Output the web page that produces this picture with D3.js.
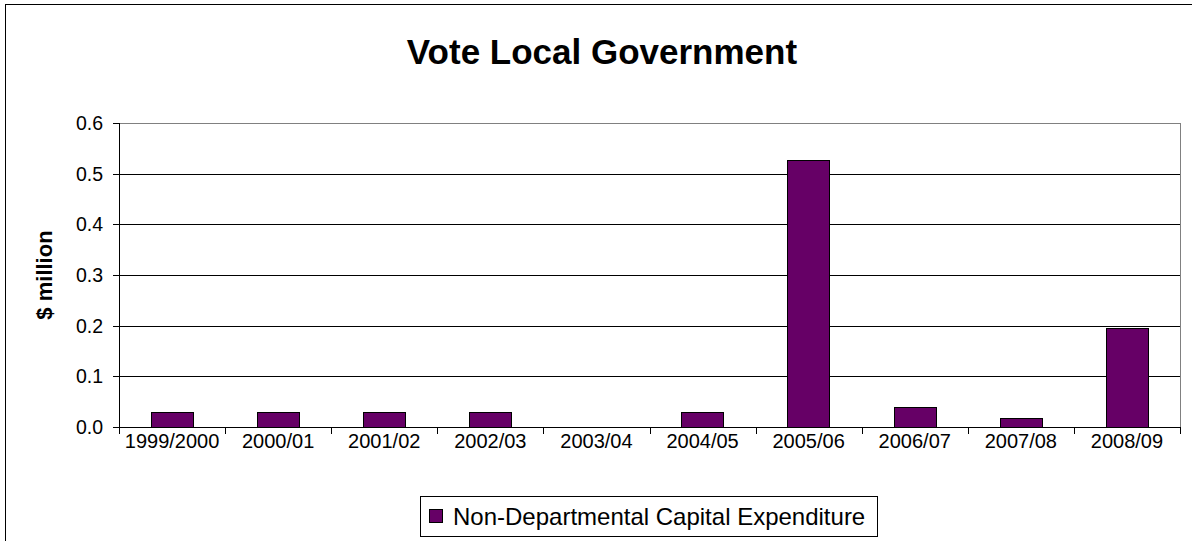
<!DOCTYPE html>
<html>
<head>
<meta charset="utf-8">
<script src="https://cdn.jsdelivr.net/npm/d3@7"></script>
<style>
  body { margin: 0; background: #fff; }
  text { font-family: "Liberation Sans", Arial, sans-serif; fill: #000; }
</style>
</head>
<body>
<div id="chart"></div>
<script>
const width = 1192
const height = 541

const years = ["1999/2000", "2000/01", "2001/02", "2002/03", "2003/04", "2004/05", "2005/06", "2006/07", "2007/08", "2008/09"]
const capex = [0.03, 0.03, 0.03, 0.03, 0, 0.03, 0.527, 0.04, 0.017, 0.195]
const yTicks = [0, 0.1, 0.2, 0.3, 0.4, 0.5, 0.6]
const titulo = "Vote Local Government"
const ejeY = "$ million"
const serie = "Non-Departmental Capital Expenditure"

const color_barra = "#660066"

const margin = { left: 119, right: 1180, top: 123, bottom: 427 }

const svg = d3.select("#chart").append("svg")
    .attr("width", width)
    .attr("height", height)

// marco del grafico
svg.append("rect")
    .attr("x", 5.5).attr("y", 4.5)
    .attr("width", 1300).attr("height", 700)
    .attr("fill", "white")
    .attr("stroke", "black")

const x = d3.scaleBand()
    .domain(years)
    .range([margin.left, margin.right])
    .paddingInner(0.6)
    .paddingOuter(0.3)

const xTicks = d3.scaleBand()
    .domain(years)
    .range([margin.left, margin.right])

const y = d3.scaleLinear()
    .domain([0, 0.6])
    .range([margin.bottom, margin.top])

const crisp = v => Math.round(v) + 0.5

// borde del area de grafico
svg.append("rect")
    .attr("x", crisp(margin.left)).attr("y", crisp(margin.top))
    .attr("width", Math.round(margin.right) - Math.round(margin.left))
    .attr("height", Math.round(margin.bottom) - Math.round(margin.top))
    .attr("fill", "white")
    .attr("stroke", "#808080")

// lineas de division
svg.append("g")
    .selectAll("line")
    .data(yTicks.filter(d => d > 0 && d < 0.6))
    .join("line")
    .attr("x1", margin.left).attr("x2", Math.round(margin.right))
    .attr("y1", d => crisp(y(d))).attr("y2", d => crisp(y(d)))
    .attr("stroke", "black")

// barras
svg.append("g")
    .selectAll("rect")
    .data(years.map((d, i) => ({ year: d, value: capex[i] })).filter(d => d.value > 0))
    .join("rect")
    .attr("x", d => crisp(x(d.year)))
    .attr("y", d => crisp(y(d.value)))
    .attr("width", Math.round(x.bandwidth()))
    .attr("height", d => Math.round(y(0)) - Math.round(y(d.value)))
    .attr("fill", color_barra)
    .attr("stroke", "black")

// eje Y
const gy = svg.append("g")
gy.append("line")
    .attr("x1", crisp(margin.left)).attr("x2", crisp(margin.left))
    .attr("y1", Math.round(margin.top)).attr("y2", Math.round(margin.bottom) + 1)
    .attr("stroke", "black")
gy.selectAll(".tick")
    .data(yTicks)
    .join("line")
    .attr("class", "tick")
    .attr("x1", Math.round(margin.left) - 6).attr("x2", Math.round(margin.left))
    .attr("y1", d => crisp(y(d))).attr("y2", d => crisp(y(d)))
    .attr("stroke", "black")
gy.selectAll("text")
    .data(yTicks)
    .join("text")
    .attr("x", margin.left - 16)
    .attr("y", d => y(d) + 7)
    .attr("text-anchor", "end")
    .attr("font-size", 19.5)
    .text(d => d3.format(".1f")(d))

// eje X
const gx = svg.append("g")
gx.append("line")
    .attr("x1", Math.round(margin.left)).attr("x2", Math.round(margin.right) + 1)
    .attr("y1", crisp(margin.bottom)).attr("y2", crisp(margin.bottom))
    .attr("stroke", "black")
gx.selectAll(".tick")
    .data(years.map(d => xTicks(d)).concat([margin.right]))
    .join("line")
    .attr("class", "tick")
    .attr("x1", d => crisp(d)).attr("x2", d => crisp(d))
    .attr("y1", Math.round(margin.bottom)).attr("y2", Math.round(margin.bottom) + 7)
    .attr("stroke", "black")
gx.selectAll("text")
    .data(years)
    .join("text")
    .attr("x", d => xTicks(d) + xTicks.bandwidth() / 2)
    .attr("y", 448)
    .attr("text-anchor", "middle")
    .attr("font-size", 20)
    .text(d => d)

// titulo
svg.append("text")
    .attr("x", 602)
    .attr("y", 64)
    .attr("text-anchor", "middle")
    .attr("font-size", 35)
    .attr("font-weight", "bold")
    .text(titulo)

// titulo eje Y
svg.append("text")
    .attr("transform", "translate(52, 275) rotate(-90)")
    .attr("text-anchor", "middle")
    .attr("font-size", 22)
    .attr("font-weight", "bold")
    .text(ejeY)

// leyenda
const leyenda = svg.append("g")
leyenda.append("rect")
    .attr("x", 420.5).attr("y", 496.5)
    .attr("width", 457).attr("height", 40)
    .attr("fill", "white")
    .attr("stroke", "black")
leyenda.append("rect")
    .attr("x", 429.5).attr("y", 509.5)
    .attr("width", 13).attr("height", 13)
    .attr("fill", color_barra)
    .attr("stroke", "black")
leyenda.append("text")
    .attr("x", 453)
    .attr("y", 525)
    .attr("font-size", 24)
    .text(serie)
</script>
</body>
</html>
